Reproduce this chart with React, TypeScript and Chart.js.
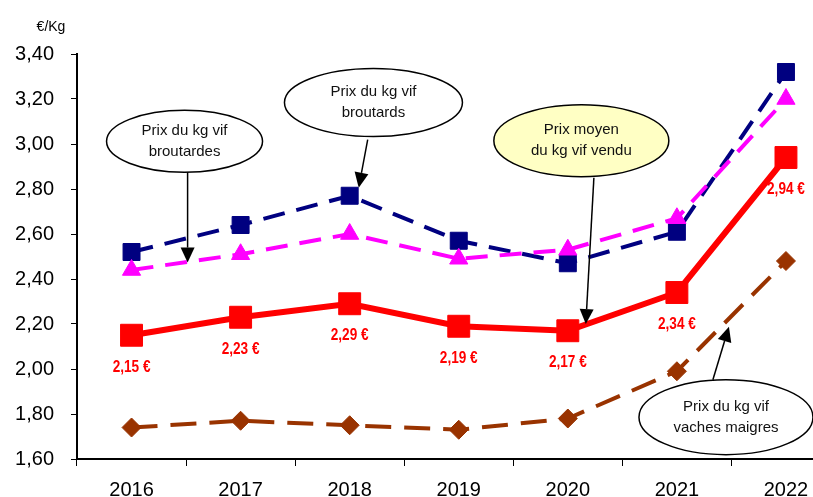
import React, { useEffect, useRef } from "react";
import { Chart, registerables } from "chart.js";

Chart.register(...registerables);

const years = ["2016", "2017", "2018", "2019", "2020", "2021", "2022"];
const prixMoyen = [2.15, 2.23, 2.29, 2.19, 2.17, 2.34, 2.94];
const broutardes = [2.44, 2.51, 2.6, 2.49, 2.53, 2.67, 3.2];
const broutards = [2.52, 2.64, 2.77, 2.57, 2.47, 2.61, 3.32];
const vachesMaigres = [1.74, 1.77, 1.75, 1.73, 1.78, 1.99, 2.48];
const yTicks = [1.6, 1.8, 2.0, 2.2, 2.4, 2.6, 2.8, 3.0, 3.2, 3.4];

type Callout = {
  lines: string[];
  cx: number; // category index
  cy: number; // value
  rx: number;
  ry: number;
  fill: string;
  from: [number, number];
  to: [number, number];
};

const callouts: Callout[] = [
  { lines: ["Prix du kg vif", "broutardes"], cx: 0.486, cy: 3.012, rx: 78, ry: 31, fill: "#ffffff", from: [0.514, 2.877], to: [0.514, 2.473] },
  { lines: ["Prix du kg vif", "broutards"], cx: 2.218, cy: 3.184, rx: 89, ry: 34, fill: "#ffffff", from: [2.165, 3.019], to: [2.083, 2.806] },
  { lines: ["Prix moyen", "du kg vif vendu"], cx: 4.124, cy: 3.015, rx: 87.5, ry: 36, fill: "#ffffc4", from: [4.239, 2.85], to: [4.165, 2.2] },
  { lines: ["Prix du kg vif", "vaches maigres"], cx: 5.45, cy: 1.786, rx: 87, ry: 37.5, fill: "#ffffff", from: [5.33, 1.952], to: [5.477, 2.188] },
];

const fmt = (v: number) => v.toFixed(2).replace(".", ",");

const overlayPlugin = {
  id: "overlay",
  afterDatasetsDraw(chart: any) {
    const { ctx, scales } = chart;
    const xs = scales.x;
    const ys = scales.y;
    const px = (i: number) => {
      const a = xs.getPixelForValue(0);
      const b = xs.getPixelForValue(1);
      return a + (b - a) * i;
    };
    const py = (v: number) => ys.getPixelForValue(v);
    ctx.save();
    // red labels (condensed bold)
    const meta = chart.getDatasetMeta(0);
    ctx.fillStyle = "#ff0000";
    ctx.font = "bold 17px 'Liberation Sans', Arial, sans-serif";
    ctx.textAlign = "center";
    ctx.textBaseline = "middle";
    const sx = 0.8;
    meta.data.forEach((pt: any, i: number) => {
      ctx.save();
      ctx.translate(pt.x, pt.y + 32);
      ctx.scale(sx, 1);
      ctx.fillText(fmt(prixMoyen[i]) + " €", 0, 0);
      ctx.restore();
    });
    // unit label
    ctx.fillStyle = "#000";
    ctx.font = "14px 'Liberation Sans', Arial, sans-serif";
    ctx.textAlign = "center";
    ctx.fillText("€/Kg", chart.chartArea.left - 26, chart.chartArea.top - 27);
    // callouts
    callouts.forEach((c) => {
      const fx = px(c.from[0]);
      const fy = py(c.from[1]);
      const tx = px(c.to[0]);
      const ty = py(c.to[1]);
      const ang = Math.atan2(ty - fy, tx - fx);
      const headLen = 15;
      const headW = 7;
      const bx = tx - headLen * Math.cos(ang);
      const by = ty - headLen * Math.sin(ang);
      ctx.strokeStyle = "#000";
      ctx.lineWidth = 1.5;
      ctx.beginPath();
      ctx.moveTo(fx, fy);
      ctx.lineTo(bx, by);
      ctx.stroke();
      ctx.fillStyle = "#000";
      ctx.beginPath();
      ctx.moveTo(tx, ty);
      ctx.lineTo(bx + headW * Math.sin(ang), by - headW * Math.cos(ang));
      ctx.lineTo(bx - headW * Math.sin(ang), by + headW * Math.cos(ang));
      ctx.closePath();
      ctx.fill();

      const cx = px(c.cx);
      const cy = py(c.cy);
      ctx.beginPath();
      ctx.ellipse(cx, cy, c.rx, c.ry, 0, 0, Math.PI * 2);
      ctx.fillStyle = c.fill;
      ctx.fill();
      ctx.lineWidth = 1.5;
      ctx.strokeStyle = "#000";
      ctx.stroke();
      ctx.fillStyle = "#111";
      ctx.font = "15px 'Liberation Sans', Arial, sans-serif";
      ctx.textAlign = "center";
      ctx.textBaseline = "middle";
      const lh = 21;
      c.lines.forEach((l, k) => {
        ctx.fillText(l, cx, cy + (k - (c.lines.length - 1) / 2) * lh);
      });
    });
    ctx.restore();
  },
};

export default function App() {
  const ref = useRef<HTMLCanvasElement | null>(null);
  useEffect(() => {
    if (!ref.current) return;
    const chart = new Chart(ref.current, {
      type: "line",
      data: {
        labels: years,
        datasets: [
          {
            label: "Prix moyen du kg vif vendu",
            data: prixMoyen,
            borderColor: "#ff0000",
            backgroundColor: "#ff0000",
            borderWidth: 6,
            pointStyle: "rect",
            pointRadius: 15.5,
            pointBorderWidth: 1,
            tension: 0,
          },
          {
            label: "Prix du kg vif broutardes",
            data: broutardes,
            borderColor: "#ff00ff",
            backgroundColor: "#ff00ff",
            borderWidth: 4,
            borderDash: [22, 12],
            pointStyle: "triangle",
            pointRadius: 10.5,
            pointBorderWidth: 1,
            tension: 0,
          },
          {
            label: "Prix du kg vif broutards",
            data: broutards,
            borderColor: "#000080",
            backgroundColor: "#000080",
            borderWidth: 4,
            borderDash: [22, 12],
            pointStyle: "rect",
            pointRadius: 12,
            pointBorderWidth: 1,
            tension: 0,
          },
          {
            label: "Prix du kg vif vaches maigres",
            data: vachesMaigres,
            borderColor: "#993300",
            backgroundColor: "#993300",
            borderWidth: 4,
            borderDash: [26, 13],
            pointStyle: "rectRot",
            pointRadius: 9.5,
            pointBorderWidth: 1,
            tension: 0,
          },
        ],
      },
      options: {
        animation: false,
        responsive: false,
        devicePixelRatio: 1,
        layout: { padding: { top: 54, left: 0, right: 2, bottom: 0 } },
        plugins: { legend: { display: false }, tooltip: { enabled: false } },
        scales: {
          x: {
            offset: true,
            grid: { offset: true, drawOnChartArea: false, drawTicks: true, tickLength: 7, color: "#000", lineWidth: 1 },
            border: { display: true, color: "#000", width: 2 },
            ticks: { color: "#000", font: { family: "'Liberation Sans', Arial, sans-serif", size: 20 }, padding: 12, maxRotation: 0 },
            afterFit: (s: any) => { s.height = 38; },
          },
          y: {
            min: 1.6,
            max: 3.4,
            afterBuildTicks: (s: any) => { s.ticks = yTicks.map((v) => ({ value: v })); },
            grid: { drawOnChartArea: false, drawTicks: true, tickLength: 6, color: "#000", lineWidth: 1 },
            border: { display: true, color: "#000", width: 2 },
            ticks: {
              color: "#000",
              font: { family: "'Liberation Sans', Arial, sans-serif", size: 20 },
              padding: 17,
              callback: (v: any) => fmt(Number(v)),
            },
            afterFit: (s: any) => { s.width = 77; },
          },
        },
      },
      plugins: [overlayPlugin],
    });
    return () => chart.destroy();
  }, []);
  return (
    <div style={{ position: "fixed", left: 0, top: 0, width: 813, height: 497, overflow: "hidden", background: "#fff" }}>
      <canvas ref={ref} width={857} height={497} style={{ width: 857, height: 497, display: "block" }} />
    </div>
  );
}
